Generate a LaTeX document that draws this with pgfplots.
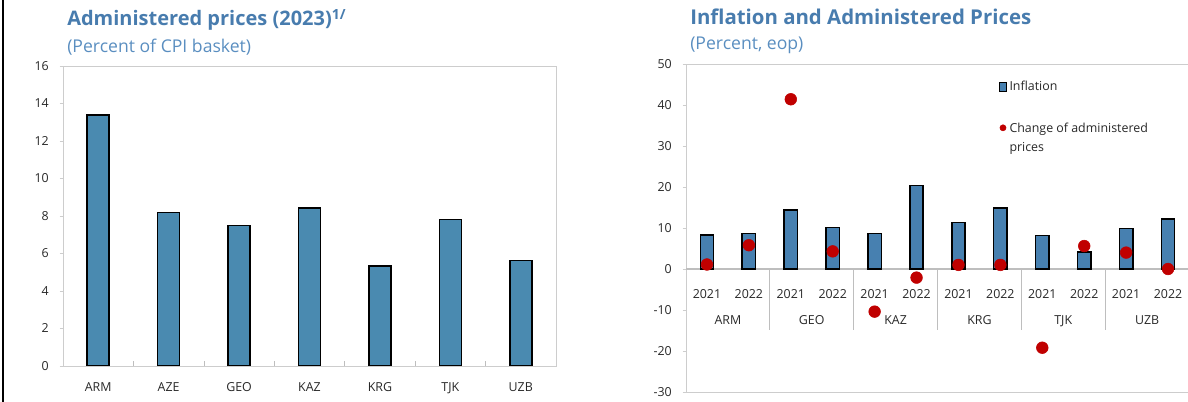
\documentclass[border=0pt]{standalone}
\usepackage{pgfplots}
\pgfplotsset{compat=1.18}
\usepackage{fontspec}
\setmainfont{Open Sans}
\definecolor{titleblue}{RGB}{72,124,174}
\definecolor{subblue}{RGB}{90,142,192}
\definecolor{barL}{RGB}{74,138,176}
\definecolor{barR}{RGB}{71,128,176}
\definecolor{dotred}{RGB}{192,0,0}
\definecolor{framegray}{RGB}{205,205,205}
\definecolor{zerogray}{RGB}{190,190,190}
\definecolor{ticktext}{RGB}{40,40,40}
\begin{document}
\begin{tikzpicture}
\useasboundingbox (0,0) rectangle (891pt,301.5pt);
\draw[black, line width=1.6pt] (2.4pt,0) -- (2.4pt,301.5pt);
% titles
\node[anchor=base west, inner sep=0pt, text=titleblue, font=\bfseries\fontsize{15pt}{18pt}\selectfont] at (50.25pt,282pt) {Administered prices (2023)\textsuperscript{1/}};
\node[anchor=base west, inner sep=0pt, text=subblue, font=\fontsize{13.2pt}{15pt}\selectfont] at (50.25pt,262pt) {(Percent of CPI basket)};
\node[anchor=base west, inner sep=0pt, text=titleblue, font=\bfseries\fontsize{15.3pt}{18pt}\selectfont] at (517.5pt,283pt) {Inflation and Administered Prices};
\node[anchor=base west, inner sep=0pt, text=subblue, font=\fontsize{13.2pt}{15pt}\selectfont] at (517.5pt,264pt) {(Percent, eop)};

% left chart
\begin{axis}[
  at={(47.25pt,27pt)}, anchor=south west,
  scale only axis, width=369.75pt, height=225pt,
  xmin=-0.5, xmax=6.5, ymin=0, ymax=16,
  ytick={0,2,...,16},
  xtick={0,...,6},
  xticklabels={ARM,AZE,GEO,KAZ,KRG,TJK,UZB},
  axis line style={framegray},
  tick style={framegray},
  x tick style={draw=none},
  major tick length=2.5pt,
  ytick pos=left, xtick pos=bottom,
  tick align=outside,
  /pgf/number format/assume math mode=true,
  ticklabel style={font=\fontsize{9.3pt}{11pt}\selectfont, text=ticktext},
  xticklabel style={anchor=base, yshift=-16.5pt},
  yticklabel style={anchor=east, inner sep=0pt, xshift=-8pt},
  ybar, bar width=16.5pt,
]
\draw[zerogray] (axis cs:0.5,0) -- (axis cs:0.5,0.27);
\draw[zerogray] (axis cs:1.5,0) -- (axis cs:1.5,0.27);
\draw[zerogray] (axis cs:2.5,0) -- (axis cs:2.5,0.27);
\draw[zerogray] (axis cs:3.5,0) -- (axis cs:3.5,0.27);
\draw[zerogray] (axis cs:4.5,0) -- (axis cs:4.5,0.27);
\draw[zerogray] (axis cs:5.5,0) -- (axis cs:5.5,0.27);
\addplot[fill=barL, draw=black, line width=1.1pt] coordinates {
 (0,13.38) (1,8.2) (2,7.5) (3,8.42) (4,5.33) (5,7.8) (6,5.63)};
\end{axis}

% right chart
\begin{axis}[
  at={(514.5pt,7.5pt)}, anchor=south west,
  scale only axis, width=377.25pt, height=246pt,
  xmin=-0.5, xmax=11.5, ymin=-30, ymax=50,
  ytick={-30,-20,...,50},
  xtick={0,...,11},
  xticklabels={2021,2022,2021,2022,2021,2022,2021,2022,2021,2022,2021,2022},
  axis line style={draw=none},
  tick style={framegray},
  x tick style={draw=none},
  major tick length=2.5pt,
  ytick pos=left, xtick pos=bottom,
  tick align=outside,
  /pgf/number format/assume math mode=true,
  ticklabel style={font=\fontsize{9.3pt}{11pt}\selectfont, text=ticktext},
  xticklabel style={anchor=base, yshift=72.75pt},
  yticklabel style={anchor=east, inner sep=0pt, xshift=-8pt},
  clip=false,
  legend style={at={(rel axis cs:0.614,0.965)}, anchor=north west, draw=none, fill=none,
    font=\fontsize{9.3pt}{14.25pt}\selectfont, text=ticktext,
    row sep=18.5pt, nodes={align=left, inner xsep=2pt}},
  legend cell align=left,
]
\draw[framegray] (rel axis cs:0,0) -- (rel axis cs:0,1) -- (rel axis cs:1.01,1);
\draw[framegray] (rel axis cs:0,0) -- (rel axis cs:1.01,0);
\draw[zerogray, line width=0.8pt] (axis cs:-0.5,0) -- (axis cs:11.6,0);
\draw[zerogray, line width=0.8pt] (axis cs:1.5,0) -- (axis cs:1.5,-14.9);
\draw[zerogray, line width=0.8pt] (axis cs:3.5,0) -- (axis cs:3.5,-14.9);
\draw[zerogray, line width=0.8pt] (axis cs:5.5,0) -- (axis cs:5.5,-14.9);
\draw[zerogray, line width=0.8pt] (axis cs:7.5,0) -- (axis cs:7.5,-14.9);
\draw[zerogray, line width=0.8pt] (axis cs:9.5,0) -- (axis cs:9.5,-14.9);
\draw[zerogray, line width=0.8pt] (axis cs:11.5,0) -- (axis cs:11.5,-14.9);
\addplot[ybar, bar width=10pt, fill=barR, draw=black, line width=1.1pt,
  legend image code/.code={\draw[fill=barR, draw=black, line width=0.6pt] (0pt,-3.2pt) rectangle (5.2pt,3.2pt);}]
  coordinates {(0,8.3) (1,8.7) (2,14.4) (3,10.1) (4,8.6) (5,20.3) (6,11.3) (7,14.9) (8,8.2) (9,4.2) (10,9.9) (11,12.2)};
\addlegendentry{Inflation}
\addplot[only marks, mark=*, mark size=4.4pt, color=dotred,
  legend image code/.code={\fill[dotred] (2.6pt,7.5pt) circle (2.3pt);}]
  coordinates {(0,1.1) (1,5.8) (2,41.4) (3,4.3) (4,-10.4) (5,-2.1) (6,1.0) (7,1.0) (8,-19.2) (9,5.6) (10,4.0) (11,0.0)};
\addlegendentry{Change of administered\\prices}
\node[anchor=base, font=\fontsize{9.3pt}{11pt}\selectfont, text=ticktext] at (axis cs:0.5,0) [yshift=-42pt] {ARM};
\node[anchor=base, font=\fontsize{9.3pt}{11pt}\selectfont, text=ticktext] at (axis cs:2.5,0) [yshift=-42pt] {GEO};
\node[anchor=base, font=\fontsize{9.3pt}{11pt}\selectfont, text=ticktext] at (axis cs:4.5,0) [yshift=-42pt] {KAZ};
\node[anchor=base, font=\fontsize{9.3pt}{11pt}\selectfont, text=ticktext] at (axis cs:6.5,0) [yshift=-42pt] {KRG};
\node[anchor=base, font=\fontsize{9.3pt}{11pt}\selectfont, text=ticktext] at (axis cs:8.5,0) [yshift=-42pt] {TJK};
\node[anchor=base, font=\fontsize{9.3pt}{11pt}\selectfont, text=ticktext] at (axis cs:10.5,0) [yshift=-42pt] {UZB};
\end{axis}
\end{tikzpicture}
\end{document}
